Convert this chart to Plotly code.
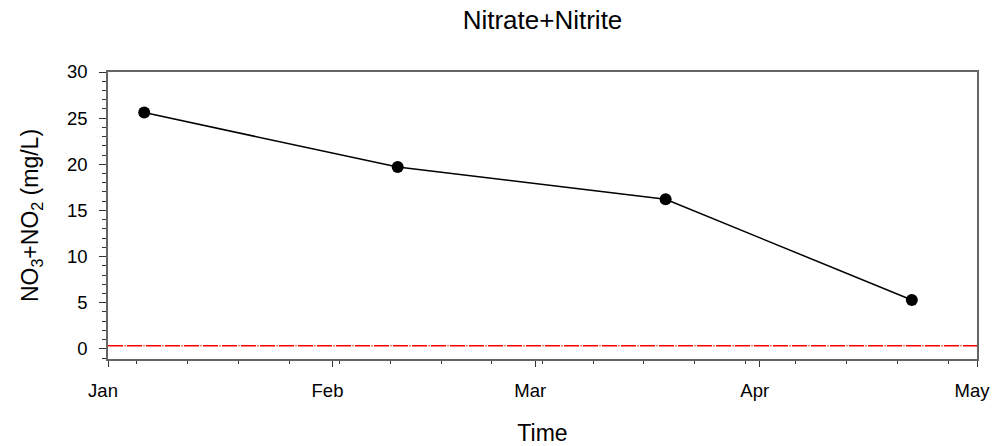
import plotly.graph_objects as go

# Data
dates = ["2003-01-06", "2003-02-10", "2003-03-19", "2003-04-22"]
no3_no2 = [25.6, 19.7, 16.2, 5.3]
limit_dates = ["2003-01-01", "2003-05-01"]
limit_value = [0.33, 0.33]

title_text = "Nitrate+Nitrite"
x_title = "Time"
y_title = "NO<sub>3</sub>+NO<sub>2</sub> (mg/L)"

FONT = "Liberation Sans, Arial, sans-serif"

fig = go.Figure()
fig.add_trace(go.Scatter(
    x=limit_dates, y=limit_value, mode="lines",
    line=dict(color="#ff0000", width=1.5, dash="15px,1.5px,1px,1.5px"),
    hoverinfo="skip", showlegend=False,
))
fig.add_trace(go.Scatter(
    x=dates, y=no3_no2, mode="lines+markers",
    line=dict(color="black", width=1.5),
    marker=dict(symbol="circle", size=12, color="black"),
    showlegend=False,
))

fig.update_layout(
    width=993, height=446,
    margin=dict(l=108, r=16, t=72, b=87),
    paper_bgcolor="white", plot_bgcolor="white",
    font=dict(family=FONT, size=18.5, color="black"),
    title=dict(text=title_text, x=0.5, xref="paper", xanchor="center",
               y=0.955, yref="container", yanchor="middle",
               font=dict(size=26, family=FONT, color="black")),
)

fig.update_xaxes(
    type="date", automargin=False,
    range=["2003-01-01", "2003-05-01"],
    tick0="2003-01-01", dtick="M1", tickformat="%b",
    ticks="outside", ticklen=6, tickwidth=1, tickcolor="#333",
    showline=True, linecolor="#666", linewidth=1.5, mirror=True,
    showgrid=False, zeroline=False,
    tickfont=dict(size=18.5, family=FONT, color="black"),
    ticklabelstandoff=8, ticklabelshift=-5,
    minor=dict(ticks="outside", ticklen=3, tickwidth=1, tickcolor="#333",
               dtick=7 * 86400000, tick0="2003-01-05", showgrid=False),
    title=dict(text=x_title, font=dict(size=23, family=FONT, color="black"), standoff=26),
)

fig.update_yaxes(
    automargin=False,
    range=[-1.1, 30],
    tick0=0, dtick=5,
    ticks="outside", ticklen=7, tickwidth=1, tickcolor="#333",
    showline=True, linecolor="#666", linewidth=1.5, mirror=True,
    showgrid=False, zeroline=False,
    tickfont=dict(size=18.5, family=FONT, color="black"),
    ticklabelstandoff=8,
    minor=dict(ticks="outside", ticklen=4, tickwidth=1, tickcolor="#333",
               dtick=1, tick0=0, showgrid=False),
    title=dict(text=y_title, font=dict(size=23, family=FONT, color="black"), standoff=22),
)

fig.write_html("out.html")
